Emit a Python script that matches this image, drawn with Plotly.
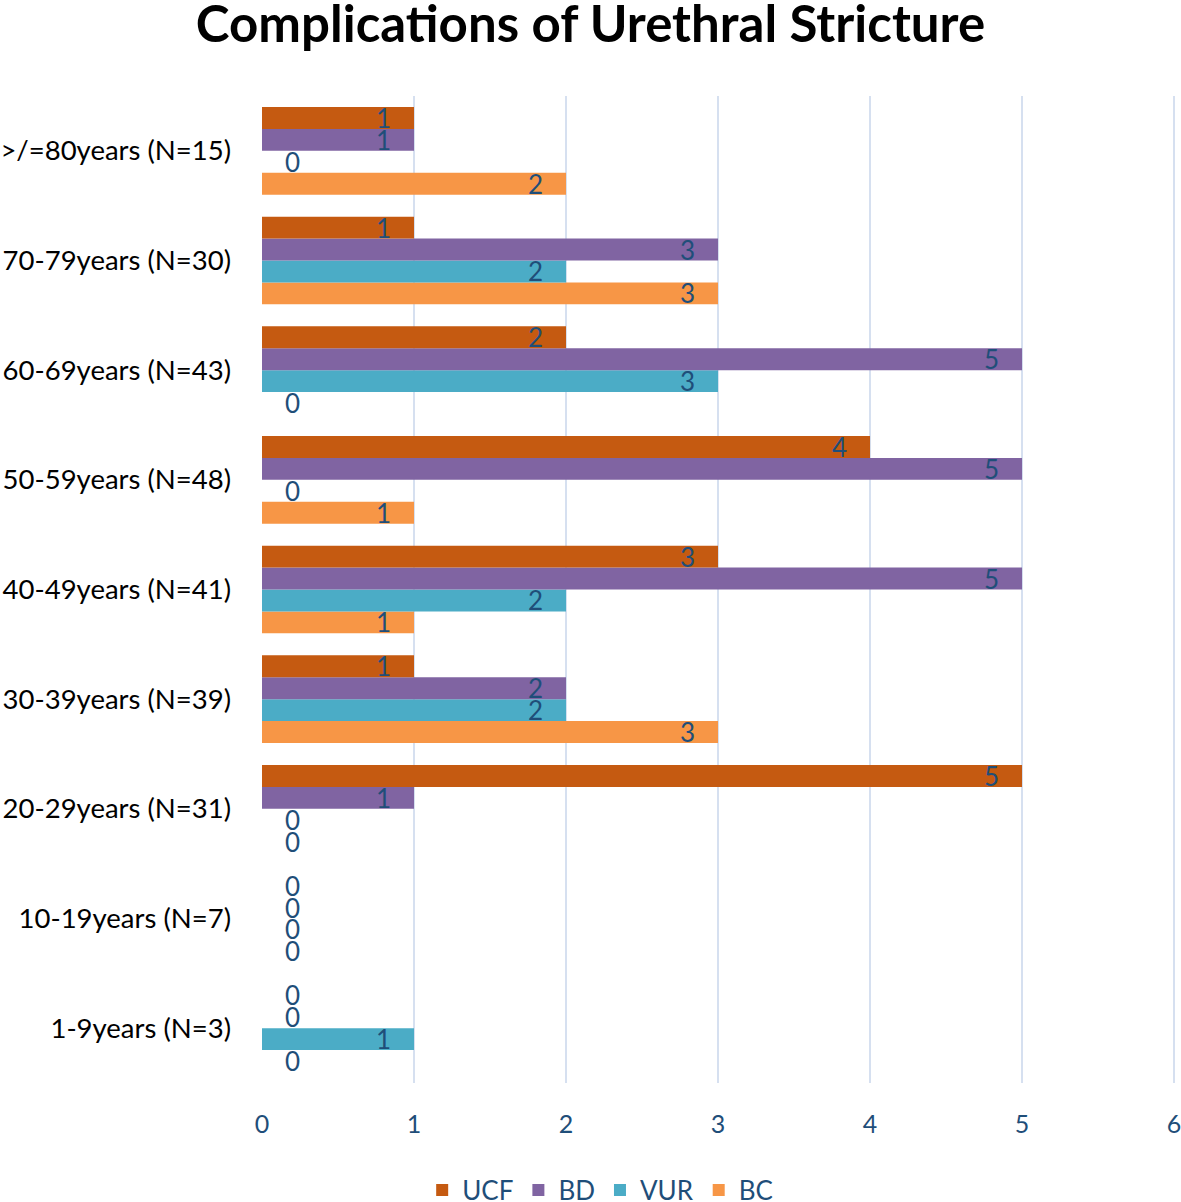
import plotly.graph_objects as go

categories = ["1-9years (N=3)", "10-19years (N=7)", "20-29years (N=31)", "30-39years (N=39)",
              "40-49years (N=41)", "50-59years (N=48)", "60-69years (N=43)", "70-79years (N=30)",
              ">/=80years (N=15)"]
ucf = [0, 0, 5, 1, 3, 4, 2, 1, 1]
bd = [0, 0, 1, 2, 5, 5, 5, 3, 1]
vur = [1, 0, 0, 2, 2, 0, 3, 2, 0]
bc = [0, 0, 0, 3, 1, 1, 0, 3, 2]
x_ticks = [0, 1, 2, 3, 4, 5, 6]

series = [("BC", bc, "#F79646"), ("VUR", vur, "#4BACC6"), ("BD", bd, "#8064A2"), ("UCF", ucf, "#C55A11")]
label_color = "#1F4E79"
font_family = "Lato, 'Open Sans', sans-serif"
NB = "\u00a0"

fig = go.Figure()
for name, vals, color in series:
    fig.add_trace(go.Bar(
        y=categories, x=vals, name=name, orientation="h",
        marker=dict(color=color, line=dict(width=0)),
        text=[(NB * 3 + str(v)) if v == 0 else (str(v) + NB * 3) for v in vals],
        textposition=["outside" if v == 0 else "inside" for v in vals],
        insidetextanchor="end",
        constraintext="none",
        textangle=0,
        cliponaxis=False,
        textfont=dict(color=label_color, size=26, family=font_family),
    ))

fig.update_layout(
    width=1181, height=1202,
    barmode="group", bargap=0.2, bargroupgap=0,
    plot_bgcolor="white", paper_bgcolor="white",
    margin=dict(l=262, r=5, t=96, b=119, autoexpand=False),
    title=dict(text="<b>Complications of Urethral Stricture</b>", x=0.5, xanchor="center",
               y=0.980, yanchor="middle",
               font=dict(size=51, color="black", family=font_family)),
    font=dict(family=font_family),
    xaxis=dict(range=[0, 6.013], tickvals=x_ticks, showgrid=True, gridcolor="#D6E0F0", gridwidth=2,
               zeroline=False, showline=False, ticks="", ticklabelstandoff=24, automargin=False,
               ticklabeloverflow="allow",
               tickfont=dict(size=25, color=label_color)),
    yaxis=dict(type="category", categoryorder="array", categoryarray=categories,
               showgrid=False, zeroline=False, showline=False, ticks="", automargin=False,
               ticklabelstandoff=30, ticklabeloverflow="allow",
               tickfont=dict(size=27.5, color="black")),
    legend=dict(orientation="h", traceorder="reversed", x=0.370, xanchor="center",
                y=-0.1084, yanchor="middle", font=dict(size=26, color=label_color),
                itemwidth=30, tracegroupgap=0),
    showlegend=True,
)

fig.write_html("out.html", config={"displayModeBar": False},
               post_script="document.body.style.margin='0';document.body.style.padding='0';")
